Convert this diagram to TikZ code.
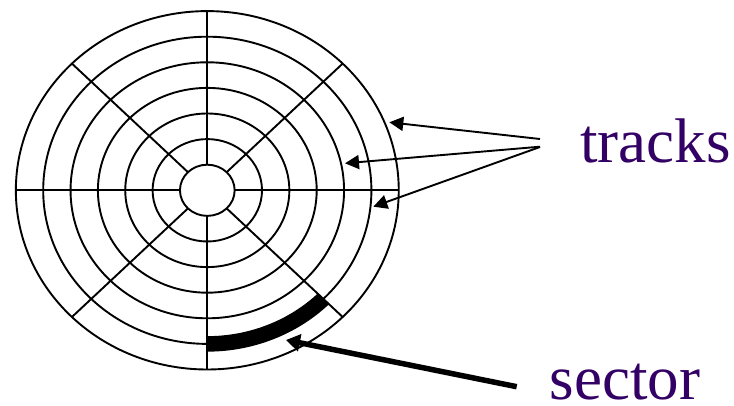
\documentclass[tikz,border=0pt]{standalone}
\usepackage{fontspec}
\setmainfont{Liberation Serif}
\usetikzlibrary{arrows.meta}
\definecolor{labelpurple}{RGB}{51,0,102}
\tikzset{
  disk/.style={line width=1.9pt},
  trackarrow/.style={line width=1.9pt,-{Triangle[length=14pt,width=14pt]}},
  sectorarrow/.style={line width=5.5pt,-{Triangle[length=14pt,width=17pt]}},
  sectorband/.style={line width=15.5pt,line cap=butt},
  lbl/.style={inner sep=0pt,anchor=base west,text depth=0pt,text=labelpurple,font=\fontsize{63}{70}\selectfont}
}
\begin{document}
\begin{tikzpicture}[x=1pt,y=1pt]
\useasboundingbox (0,0) rectangle (734,406);
\coordinate (c) at (207.3,215.7);
% concentric tracks
\foreach \k in {1,...,7}{
  \draw[disk] (c) ellipse [x radius=\k*27.35pt, y radius=\k*25.6pt];
}
% sector boundaries
\foreach \a in {0,45,...,315}{
  \draw[disk] ([shift={(\a:27.35pt and 25.6pt)}]c) -- ([shift={(\a:191.45pt and 179.2pt)}]c);
}
% highlighted sector
\draw[sectorband] ([shift={(270:164.1pt and 153.6pt)}]c) arc[start angle=270, end angle=315, x radius=164.1pt, y radius=153.6pt];
% labels
\node[lbl] (tracks) at (580,243.3) {tracks};
\node[lbl] (sector) at (549.5,6.5) {sector};
% arrow ends
\coordinate (ta) at (540,267);
\coordinate (tb) at (540,259.3);
\coordinate (tc) at (540,259);
\coordinate (ha) at (389.3,283.7);
\coordinate (hb) at (345,242.7);
\coordinate (hc) at (373.3,199.3);
\coordinate (sa) at (516.7,19.3);
\coordinate (hs) at (286,66);
\draw[trackarrow] (ta) -- (ha);
\draw[trackarrow] (tb) -- (hb);
\draw[trackarrow] (tc) -- (hc);
\draw[sectorarrow] (sa) -- (hs);
\end{tikzpicture}
\end{document}
